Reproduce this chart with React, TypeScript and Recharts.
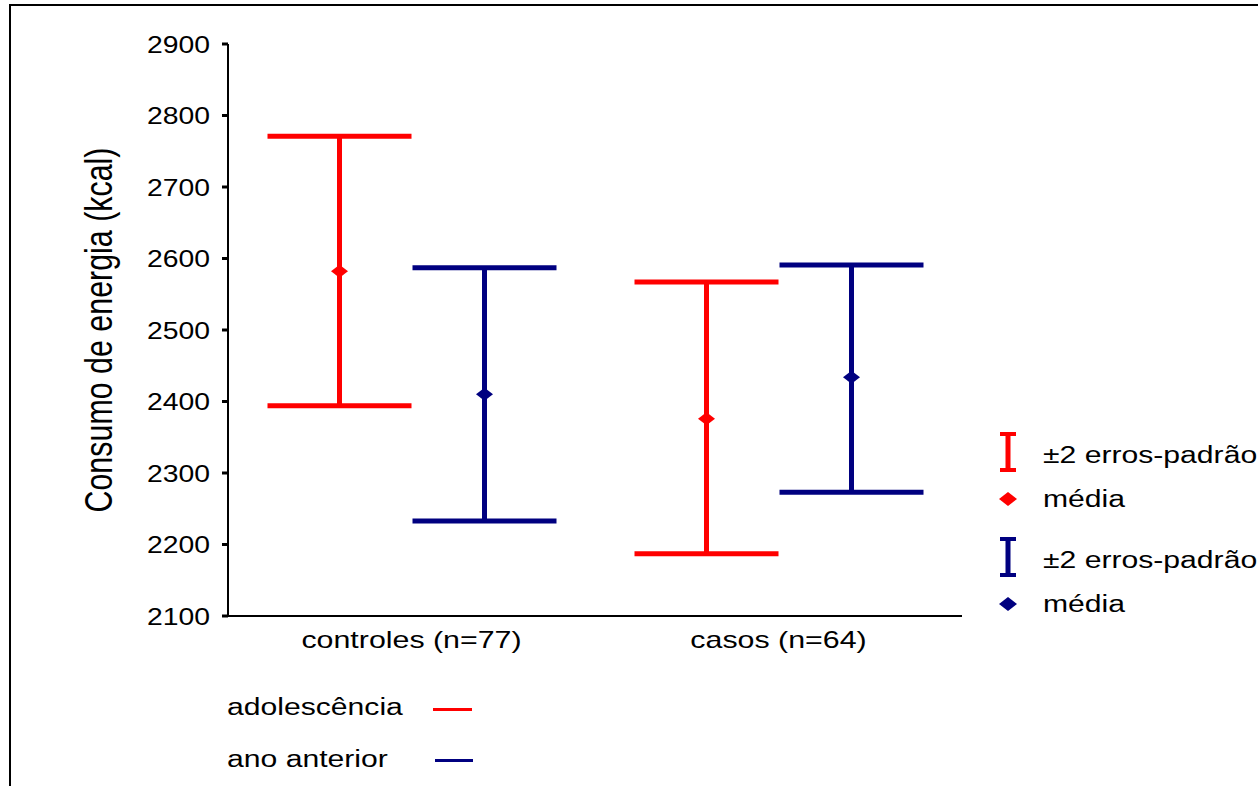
import { Bar, ComposedChart, ErrorBar, XAxis, YAxis } from 'recharts'

const categories = ['controles (n=77)', 'casos (n=64)']
// adolescência (red)
const adolMean = [2582, 2376]
const adolLow = [2394, 2187]
const adolHigh = [2771, 2567]
// ano anterior (blue)
const anoMean = [2410, 2434]
const anoLow = [2233, 2273]
const anoHigh = [2587, 2591]
const yTicks = [2100, 2200, 2300, 2400, 2500, 2600, 2700, 2800, 2900]

const RED = '#ff0000'
const BLUE = '#000080'
const FONT = "'Liberation Sans', Arial, sans-serif"

const data = categories.map((cat, i) => ({
  cat,
  adol: adolMean[i],
  adolErr: [adolMean[i] - adolLow[i], adolHigh[i] - adolMean[i]],
  ano: anoMean[i],
  anoErr: [anoMean[i] - anoLow[i], anoHigh[i] - anoMean[i]],
}))

// mean marker drawn at the top of the (invisible) bar
function MeanDiamond(props: any) {
  const { x, y, width, fill } = props
  const cx = x + width / 2
  return (
    <polygon
      points={`${cx - 8.5},${y} ${cx},${y - 6.5} ${cx + 8.5},${y} ${cx},${y + 6.5}`}
      fill={fill}
    />
  )
}

function YTick(props: any) {
  const { x, y, payload } = props
  return (
    <g transform={`translate(${x},${y}) scale(1.18,1)`}>
      <text x={0} y={0} dy="0.36em" textAnchor="end" fontSize={24} fontFamily={FONT} fill="#000">
        {payload.value}
      </text>
    </g>
  )
}

function XTick(props: any) {
  const { x, y, payload } = props
  return (
    <g transform={`translate(${x},${y + 24}) scale(1.32,1)`}>
      <text x={0} y={0} dy="0.36em" textAnchor="middle" fontSize={23} fontFamily={FONT} fill="#000">
        {payload.value}
      </text>
    </g>
  )
}

function Label({ left, top, children }: { left: number; top: number; children: React.ReactNode }) {
  return (
    <div
      style={{
        position: 'absolute',
        left,
        top,
        fontFamily: FONT,
        fontSize: 23,
        lineHeight: 1,
        whiteSpace: 'nowrap',
        transform: 'translateY(-50%) scaleX(1.31)',
        transformOrigin: 'left center',
        color: '#000',
      }}
    >
      {children}
    </div>
  )
}

function IBeam({ color }: { color: string }) {
  return (
    <svg width={16} height={40} style={{ display: 'block' }}>
      <rect x={0} y={0} width={16} height={4} fill={color} />
      <rect x={5.5} y={0} width={5} height={40} fill={color} />
      <rect x={0} y={36} width={16} height={4} fill={color} />
    </svg>
  )
}

function Diamond({ color }: { color: string }) {
  return (
    <svg width={18} height={14} style={{ display: 'block' }}>
      <polygon points="0,7 9,0 18,7 9,14" fill={color} />
    </svg>
  )
}

export default function App() {
  return (
    <div
      style={{
        position: 'absolute',
        left: 0,
        top: 0,
        width: 1258,
        height: 786,
        overflow: 'hidden',
        background: '#fff',
      }}
    >
      <div
        style={{
          position: 'absolute',
          left: 9,
          top: 4,
          width: 1400,
          height: 900,
          border: '2px solid #000',
        }}
      />

      <ComposedChart
        width={1258}
        height={786}
        data={data}
        margin={{ top: 44, right: 296, bottom: 120, left: 88 }}
        barGap={0}
        style={{ position: 'absolute', left: 0, top: 0 }}
      >
        <XAxis
          dataKey="cat"
          height={50}
          tickLine={false}
          tickSize={0}
          tickMargin={0}
          axisLine={{ stroke: '#000', strokeWidth: 2 }}
          tick={<XTick />}
        />
        <XAxis
          xAxisId="top"
          dataKey="cat"
          orientation="top"
          height={0}
          tick={false}
          tickLine={false}
          axisLine={{ stroke: '#111', strokeWidth: 2 }}
        />
        <YAxis
          domain={[2100, 2900]}
          ticks={yTicks}
          allowDataOverflow
          width={140}
          tickSize={6}
          tickMargin={12}
          tickLine={{ stroke: '#000', strokeWidth: 3 }}
          axisLine={{ stroke: '#000', strokeWidth: 2 }}
          tick={<YTick />}
        />
        <YAxis
          yAxisId="right"
          orientation="right"
          domain={[2100, 2900]}
          width={0}
          tick={false}
          tickLine={false}
          axisLine={{ stroke: '#111', strokeWidth: 2 }}
        />
        <Bar dataKey="adol" barSize={145} fill={RED} shape={<MeanDiamond />} isAnimationActive={false}>
          <ErrorBar
            dataKey="adolErr"
            direction="y"
            width={72}
            stroke={RED}
            strokeWidth={5}
            isAnimationActive={false}
          />
        </Bar>
        <Bar dataKey="ano" barSize={145} fill={BLUE} shape={<MeanDiamond />} isAnimationActive={false}>
          <ErrorBar
            dataKey="anoErr"
            direction="y"
            width={72}
            stroke={BLUE}
            strokeWidth={5}
            isAnimationActive={false}
          />
        </Bar>
      </ComposedChart>

      {/* y axis title */}
      <div
        style={{
          position: 'absolute',
          left: 99,
          top: 330,
          fontFamily: FONT,
          fontSize: 38,
          lineHeight: 1,
          whiteSpace: 'nowrap',
          transform: 'translate(-50%, -50%) rotate(-90deg) scaleX(0.8)',
          color: '#000',
        }}
      >
        Consumo de energia (kcal)
      </div>

      {/* right legend */}
      <div style={{ position: 'absolute', left: 1000, top: 432 }}>
        <IBeam color={RED} />
      </div>
      <Label left={1043} top={455}>±2 erros-padrão</Label>
      <div style={{ position: 'absolute', left: 999, top: 492 }}>
        <Diamond color={RED} />
      </div>
      <Label left={1043} top={499}>média</Label>
      <div style={{ position: 'absolute', left: 1000, top: 537 }}>
        <IBeam color={BLUE} />
      </div>
      <Label left={1043} top={560}>±2 erros-padrão</Label>
      <div style={{ position: 'absolute', left: 999, top: 597 }}>
        <Diamond color={BLUE} />
      </div>
      <Label left={1043} top={604}>média</Label>

      {/* bottom legend */}
      <Label left={227} top={707}>adolescência</Label>
      <div style={{ position: 'absolute', left: 433, top: 708, width: 39, height: 3, background: RED }} />
      <Label left={227} top={759}>ano anterior</Label>
      <div style={{ position: 'absolute', left: 435, top: 759, width: 38, height: 3, background: BLUE }} />
    </div>
  )
}
